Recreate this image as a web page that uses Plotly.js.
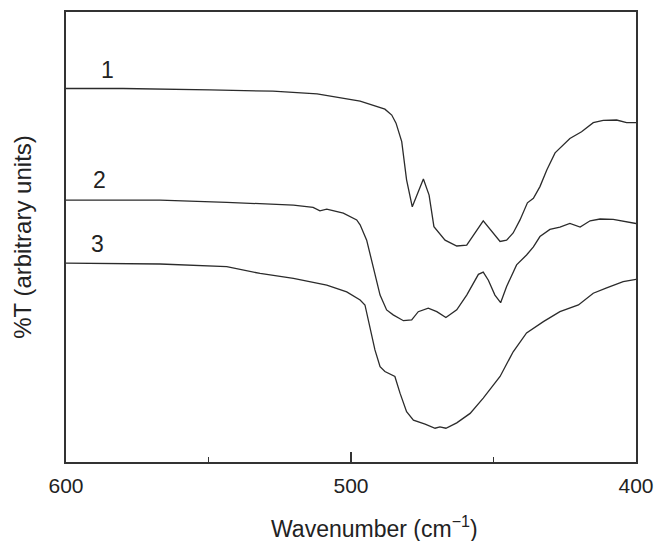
<!DOCTYPE html>
<html>
<head>
<meta charset="utf-8">
<script src="https://cdn.plot.ly/plotly-3.0.1.min.js"></script>
<style>html,body{margin:0;padding:0;background:#fff;}#chart{width:654px;height:541px;}</style>
</head>
<body>
<div id="chart"></div>
<script>
// Wavenumber (cm-1) and %T (arbitrary units) for each spectrum
const wn1 = [600, 580, 549.5, 527.4, 511.9, 496.8, 488.1, 485.7, 484.2, 482.2, 480.5, 478.5, 474.6, 472.6, 470.9, 467, 462.9, 459.4, 453.6, 447.7, 445.4, 443.1, 440.7, 438.1, 436, 433.7, 431.3, 428.4, 423.2, 419.1, 415, 411.5, 406.8, 403.3, 400];
const t1  = [83.0, 83.0, 82.7, 82.4, 81.8, 80.2, 78.4, 77.1, 75.3, 71.2, 62.7, 56.7, 62.9, 59.3, 52.3, 49.3, 48.0, 48.2, 53.6, 49.0, 49.3, 50.9, 53.8, 57.6, 58.6, 61.2, 64.9, 68.7, 71.9, 73.4, 75.4, 75.9, 76.0, 75.4, 75.4];

const wn2 = [600, 577.5, 567, 543.6, 520.2, 513.3, 510.9, 508.5, 502.7, 498, 496.8, 494.5, 492.2, 489.8, 487.5, 485.2, 481.6, 478.7, 476.4, 472.9, 469.9, 466.7, 462.9, 459.4, 455.3, 453.6, 451.8, 449.5, 447.5, 445.4, 441.9, 438.4, 436, 433.7, 430.2, 426.7, 423.2, 419.6, 416.1, 412.6, 408, 403.3, 400];
const t2  = [58.2, 58.1, 58.2, 57.7, 57.1, 56.6, 55.8, 56.2, 55.3, 53.8, 52.7, 49.3, 43.4, 37.1, 33.8, 32.7, 31.4, 31.6, 33.4, 34.2, 33.4, 32.1, 33.8, 37.1, 41.7, 42.2, 40.4, 37.1, 35.4, 39.0, 43.8, 46.0, 47.8, 50.1, 51.7, 52.2, 53.0, 52.2, 53.6, 54.0, 53.9, 53.4, 53.0];

const wn3 = [600, 567, 543.6, 531.9, 520.2, 508.5, 501.5, 496.8, 495.1, 493.3, 491.6, 489.8, 488.1, 484.6, 482.8, 480.5, 478.1, 474, 470.5, 468.8, 466.7, 462.9, 458.2, 453.6, 447.7, 443.1, 438.4, 432.5, 426.7, 420.2, 415, 410.3, 404.5, 400];
const t3  = [44.2, 44.0, 43.4, 41.9, 40.8, 39.3, 37.8, 36.0, 34.9, 30.1, 24.9, 21.2, 20.1, 19.0, 15.3, 11.2, 9.3, 8.4, 7.5, 7.8, 7.5, 8.7, 10.8, 14.2, 19.0, 24.5, 28.7, 31.2, 33.4, 34.9, 37.5, 38.7, 40.1, 40.6];

const curveLabels = ["1", "2", "3"];
const labelX = [585.6, 588.1, 588.8];
const labelY = [87.1, 62.7, 48.4];

const xTickVals = [600, 500, 400];
const xTickText = ["600", "500", "400"];
const xTitle = 'Wavenumber (cm<sup>−1</sup>)';
const yTitle = '%T (arbitrary units)';

const lineStyle = {color: '#2b2b2b', width: 1.3};
const traces = [
  {x: wn1, y: t1, mode: 'lines', line: lineStyle, hoverinfo: 'skip'},
  {x: wn2, y: t2, mode: 'lines', line: lineStyle, hoverinfo: 'skip'},
  {x: wn3, y: t3, mode: 'lines', line: lineStyle, hoverinfo: 'skip'}
];

const fam = 'Liberation Sans, Arial, sans-serif';
const txt = '#222';

const layout = {
  width: 654, height: 541,
  margin: {l: 66, r: 18, t: 12, b: 79},
  paper_bgcolor: '#fff', plot_bgcolor: '#fff',
  showlegend: false,
  font: {family: fam, color: txt},
  xaxis: {
    range: [600, 400], autorange: false,
    tickmode: 'array', tickvals: xTickVals, ticktext: xTickText,
    ticks: 'inside', ticklen: 10, tickwidth: 1.3, tickcolor: '#333',
    minor: {tickmode: 'array', tickvals: [550, 450], ticks: 'inside', ticklen: 5, tickwidth: 1.3, tickcolor: '#333'},
    showline: true, mirror: true, linecolor: '#333', linewidth: 1.6,
    showgrid: false, zeroline: false,
    tickfont: {size: 21, family: fam, color: txt},
    ticklabelstandoff: 4
  },
  xaxis2: {
    overlaying: 'x', anchor: 'y', side: 'bottom',
    range: [600, 400], autorange: false,
    tickmode: 'array', tickvals: [600, 400],
    ticks: 'outside', ticklen: 10, tickwidth: 1.3, tickcolor: '#333',
    minor: {tickmode: 'array', tickvals: [550, 450], ticks: 'outside', ticklen: 5, tickwidth: 1.3, tickcolor: '#333'},
    showticklabels: false, showline: false, showgrid: false, zeroline: false
  },
  yaxis: {
    range: [0, 100], autorange: false,
    showticklabels: false, ticks: '',
    showline: true, mirror: true, linecolor: '#333', linewidth: 1.6,
    showgrid: false, zeroline: false,
    title: {text: yTitle, font: {size: 24, family: fam, color: txt}, standoff: 26}
  },
  annotations: curveLabels.map((t, i) => ({
    x: labelX[i], y: labelY[i], xref: 'x', yref: 'y', text: t, showarrow: false,
    font: {size: 23, family: fam, color: txt}
  })).concat([{
    x: 0.542, y: -0.145, xref: 'paper', yref: 'paper', xanchor: 'center', yanchor: 'middle',
    text: xTitle, showarrow: false, font: {size: 23, family: fam, color: txt}
  }])
};

Plotly.newPlot('chart', traces, layout, {staticPlot: true, displayModeBar: false});
</script>
</body>
</html>
